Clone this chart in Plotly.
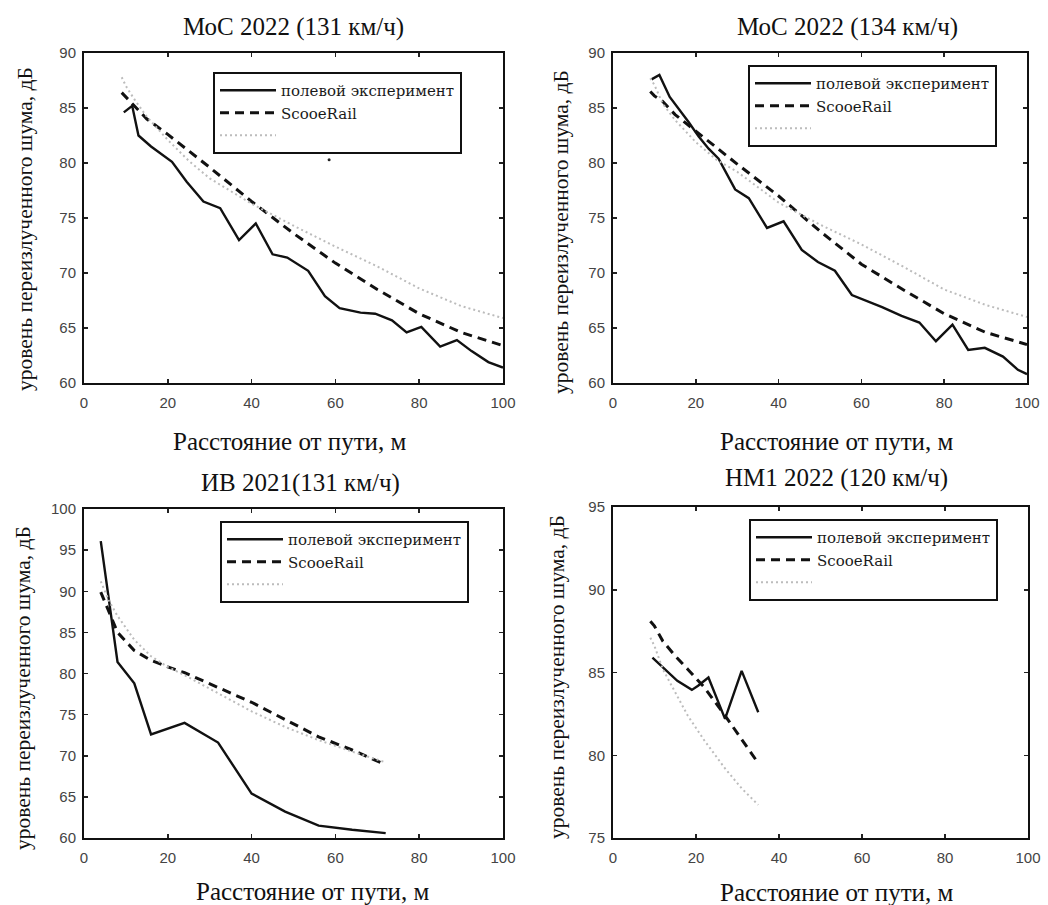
import plotly.graph_objects as go

# ---------------- data ----------------
# МоС 2022 (131 км/ч)
MOC131_MEAS_X = [9.5, 11.5, 13, 16, 21, 24.5, 28.5, 32.5, 37, 41, 45, 48.5, 53.5, 57.5, 61, 66, 69.5, 73.5, 77, 80.5, 85, 89, 92.5, 96.5, 100]
MOC131_MEAS_Y = [84.6, 85.2, 82.5, 81.5, 80.1, 78.3, 76.5, 75.9, 73.0, 74.5, 71.7, 71.4, 70.2, 67.9, 66.8, 66.4, 66.3, 65.7, 64.6, 65.1, 63.3, 63.9, 62.9, 61.9, 61.4]
MOC_MODEL_X = [9, 10, 12, 15, 20, 25, 30, 40, 50, 60, 70, 80, 90, 100]
MOC131_DASH_Y = [86.4, 86.0, 85.2, 84.0, 82.6, 81.1, 79.6, 76.5, 73.6, 70.9, 68.5, 66.3, 64.6, 63.4]
MOC131_DOT_Y = [87.8, 87.0, 85.8, 84.2, 82.1, 80.2, 78.6, 76.3, 74.3, 72.4, 70.6, 68.6, 67.0, 65.9]
MOC131_STRAY_X = [58.5]
MOC131_STRAY_Y = [80.3]

# МоС 2022 (134 км/ч)
MOC134_MEAS_X = [9.3, 11.2, 13.7, 16, 18.3, 20.7, 23.1, 25.5, 29.5, 32.8, 37.2, 41.2, 45.6, 49.5, 53.6, 57.7, 61, 65, 69.7, 74, 78, 82, 85.8, 89.8, 94.2, 97.8, 100]
MOC134_MEAS_Y = [87.6, 88.0, 86.0, 84.9, 83.7, 82.4, 81.3, 80.4, 77.6, 76.8, 74.1, 74.7, 72.1, 71.0, 70.2, 68.0, 67.5, 66.9, 66.1, 65.5, 63.8, 65.3, 63.0, 63.2, 62.4, 61.2, 60.8]
MOC134_DASH_Y = [86.5, 86.1, 85.6, 84.4, 82.9, 81.4, 79.9, 77.0, 73.8, 70.8, 68.5, 66.3, 64.6, 63.5]
MOC134_DOT_Y = [87.7, 87.1, 85.4, 83.9, 81.9, 80.3, 79.2, 76.4, 74.4, 72.6, 70.6, 68.5, 67.1, 66.0]

# ИВ 2021 (131 км/ч)
IB_MEAS_X = [4, 8, 12, 16, 24, 32, 40, 48, 56, 64, 72]
IB_MEAS_Y = [96.1, 81.4, 78.8, 72.6, 74.0, 71.6, 65.4, 63.2, 61.5, 61.0, 60.6]
IB_MODEL_X = [4, 6, 8, 12, 16, 20, 24, 32, 40, 48, 56, 64, 72]
IB_DASH_Y = [89.9, 87.5, 85.0, 82.8, 81.6, 80.8, 80.1, 78.3, 76.5, 74.4, 72.3, 70.7, 68.9]
IB_DOT_Y = [91.2, 88.8, 87.0, 84.1, 82.1, 80.8, 79.8, 77.6, 75.4, 73.5, 71.9, 70.5, 69.2]

# НМ1 2022 (120 км/ч)
HM_MEAS_X = [9.5, 12, 15.5, 19, 20.5, 23, 27, 31, 35]
HM_MEAS_Y = [85.9, 85.3, 84.5, 83.95, 84.2, 84.7, 82.2, 85.1, 82.6]
HM_DASH_X = [9, 10, 12, 15, 18, 22, 27, 31, 34.5]
HM_DASH_Y = [88.1, 87.8, 86.9, 86.0, 85.2, 84.1, 82.4, 81.0, 79.7]
HM_DOT_X = [9, 10, 12, 15, 18, 22, 27, 31, 35]
HM_DOT_Y = [87.1, 86.6, 85.2, 83.8, 82.4, 80.9, 79.2, 78.0, 77.0]

TITLES = ["МоС 2022 (131 км/ч)", "МоС 2022 (134 км/ч)", "ИВ 2021(131 км/ч)", "НМ1 2022 (120 км/ч)"]
LEGEND_NAMES = ["полевой эксперимент", "ScooeRail", " "]
X_TITLE = "Расстояние от пути, м"
Y_TITLE = "уровень переизлученного шума, дБ"
X_RANGE = [0, 100]
Y_RANGES = [[60, 90], [60, 90], [60, 100], [75, 95]]
X_TICKS = [0, 20, 40, 60, 80, 100]
Y_DTICK = 5

# ---------------- layout geometry (pixels) ----------------
W, H = 1048, 905
SERIF = "Liberation Serif"
LEG_SERIF = "DejaVu Serif"
SANS = "Liberation Sans"

def px(x):
    return x / W

def py(y):
    return 1 - y / H

# plot boxes: (left, right, top, bottom) in px
BOXES = [(84, 503, 53, 383), (613, 1027, 53, 383), (84, 503, 509, 838), (613, 1028, 507, 838)]
TITLE_POS = [(293, 27), (847, 27), (300, 483), (836, 478)]
XTITLE_POS = [(289, 441), (836, 441), (312, 891), (836, 892)]
YTITLE_POS = [(25, 229), (561, 232), (23, 688), (557, 677)]
LEGEND_POS = [(213, 72), (748, 65), (220, 521), (749, 519)]

panels = [
    (MOC131_MEAS_X, MOC131_MEAS_Y, MOC_MODEL_X, MOC131_DASH_Y, MOC_MODEL_X, MOC131_DOT_Y),
    (MOC134_MEAS_X, MOC134_MEAS_Y, MOC_MODEL_X, MOC134_DASH_Y, MOC_MODEL_X, MOC134_DOT_Y),
    (IB_MEAS_X, IB_MEAS_Y, IB_MODEL_X, IB_DASH_Y, IB_MODEL_X, IB_DOT_Y),
    (HM_MEAS_X, HM_MEAS_Y, HM_DASH_X, HM_DASH_Y, HM_DOT_X, HM_DOT_Y),
]

fig = go.Figure()
layout = dict(
    width=W, height=H, margin=dict(l=0, r=0, t=0, b=0, pad=0),
    paper_bgcolor="white", plot_bgcolor="white", showlegend=True,
    font=dict(family=LEG_SERIF, size=15, color="#1a1a1a"),
    annotations=[],
)

for i, (mx, my, dx, dy, ox, oy) in enumerate(panels):
    n = i + 1
    xa = "x" if n == 1 else f"x{n}"
    ya = "y" if n == 1 else f"y{n}"
    lg = "legend" if n == 1 else f"legend{n}"
    fig.add_trace(go.Scatter(x=mx, y=my, mode="lines", name=LEGEND_NAMES[0],
                             line=dict(color="#111111", width=2.4),
                             xaxis=xa, yaxis=ya, legend=lg))
    fig.add_trace(go.Scatter(x=dx, y=dy, mode="lines", name=LEGEND_NAMES[1],
                             line=dict(color="#111111", width=3, dash="9px,6px"),
                             xaxis=xa, yaxis=ya, legend=lg))
    fig.add_trace(go.Scatter(x=ox, y=oy, mode="lines", name=LEGEND_NAMES[2],
                             line=dict(color="#bcbcbc", width=2, dash="2px,3px"),
                             xaxis=xa, yaxis=ya, legend=lg))

    l, r, t, b = BOXES[i]
    axis_common = dict(
        showline=True, linecolor="#111111", linewidth=2, mirror="ticks",
        ticks="inside", ticklen=4, tickwidth=1.5, tickcolor="#222222",
        showgrid=False, zeroline=False, fixedrange=True, automargin=False,
        tickfont=dict(family=SANS, size=15, color="#444444"),
    )
    layout["xaxis" if n == 1 else f"xaxis{n}"] = dict(
        axis_common, domain=[px(l), px(r)], range=X_RANGE, tickvals=X_TICKS,
        anchor=ya, ticklabelstandoff=5,
    )
    layout["yaxis" if n == 1 else f"yaxis{n}"] = dict(
        axis_common, domain=[py(b), py(t)], range=Y_RANGES[i], dtick=Y_DTICK,
        tick0=0, anchor=xa, ticklabelstandoff=3,
    )
    lx, ly = LEGEND_POS[i]
    layout[lg] = dict(
        x=px(lx), y=py(ly), xanchor="left", yanchor="top",
        bgcolor="white", bordercolor="#111111", borderwidth=2,
        font=dict(family=LEG_SERIF, size=15, color="#1a1a1a"),
        tracegroupgap=0, itemwidth=56,
    )
    tx, ty = TITLE_POS[i]
    layout["annotations"].append(dict(
        text=TITLES[i], x=px(tx), y=py(ty), xref="paper", yref="paper",
        xanchor="center", yanchor="middle", showarrow=False,
        font=dict(family=SERIF, size=25, color="#111111")))
    xx, xy = XTITLE_POS[i]
    layout["annotations"].append(dict(
        text=X_TITLE, x=px(xx), y=py(xy), xref="paper", yref="paper",
        xanchor="center", yanchor="middle", showarrow=False,
        font=dict(family=SERIF, size=25, color="#111111")))
    yx, yy = YTITLE_POS[i]
    layout["annotations"].append(dict(
        text=Y_TITLE, x=px(yx), y=py(yy), xref="paper", yref="paper",
        xanchor="center", yanchor="middle", showarrow=False, textangle=-90,
        font=dict(family=SERIF, size=21.5, color="#111111")))

# stray point visible in the first panel
fig.add_trace(go.Scatter(x=MOC131_STRAY_X, y=MOC131_STRAY_Y, mode="markers",
                         marker=dict(color="#222222", size=3), showlegend=False,
                         xaxis="x", yaxis="y"))

fig.update_layout(**layout)
fig.write_html(
    "out.html",
    config={"displayModeBar": False, "staticPlot": True},
    post_script=(
        "document.documentElement.style.margin='0';"
        "document.documentElement.style.overflow='hidden';"
        "document.body.style.margin='0';"
        "document.body.style.overflow='hidden';"
    ),
)
